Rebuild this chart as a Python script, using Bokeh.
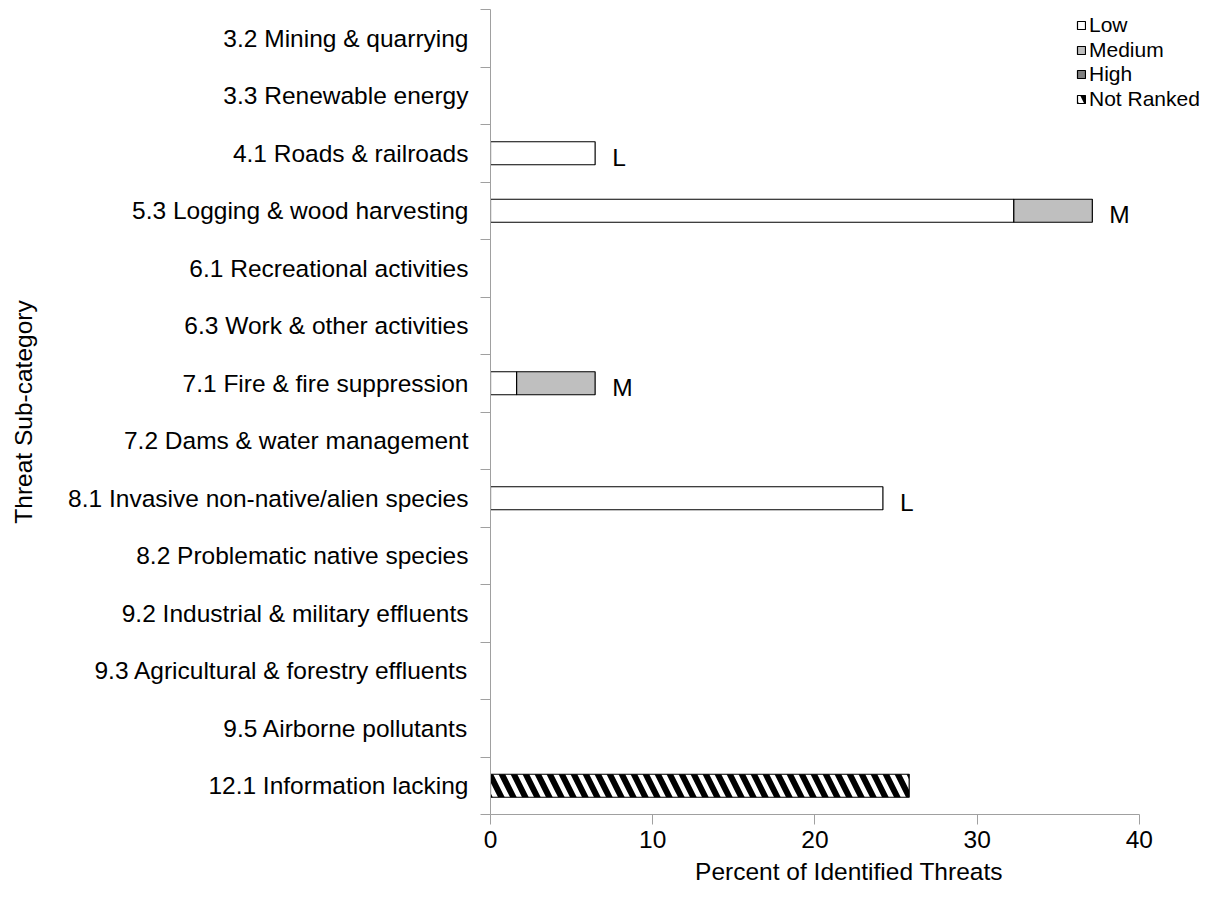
from bokeh.plotting import figure
from bokeh.models import ColumnDataSource, FixedTicker, Legend, LegendItem, Range1d
from bokeh.embed import file_html
from bokeh.resources import INLINE

categories = [
    "3.2 Mining & quarrying",
    "3.3 Renewable energy",
    "4.1 Roads & railroads",
    "5.3 Logging & wood harvesting",
    "6.1 Recreational activities",
    "6.3 Work & other activities",
    "7.1 Fire & fire suppression",
    "7.2 Dams & water management",
    "8.1 Invasive non-native/alien species",
    "8.2 Problematic native species",
    "9.2 Industrial & military effluents",
    "9.3 Agricultural & forestry effluents",
    "9.5 Airborne pollutants",
    "12.1 Information lacking",
]
low = [0, 0, 6.45, 32.26, 0, 0, 1.61, 0, 24.19, 0, 0, 0, 0, 0]
medium = [0, 0, 0, 4.84, 0, 0, 4.84, 0, 0, 0, 0, 0, 0, 0]
high = [0, 0, 0, 0, 0, 0, 0, 0, 0, 0, 0, 0, 0, 0]
not_ranked = [0, 0, 0, 0, 0, 0, 0, 0, 0, 0, 0, 0, 0, 25.81]
rank_labels = ["", "", "L", "M", "", "", "M", "", "L", "", "", "", "", ""]
series_names = ["Low", "Medium", "High", "Not Ranked"]
x_ticks = [0, 10, 20, 30, 40]

FONT = "Liberation Sans"
FS = "24.5px"
LEG_FS = "21px"
AXIS_GRAY = "#A0A0A0"
n = len(categories)
centers = [n - i - 0.5 for i in range(n)]
bounds_ticks = list(range(n + 1))

p = figure(width=1207, height=887, output_backend="svg", toolbar_location=None,
           x_range=Range1d(0, 44.2), y_range=Range1d(0, n),
           min_border_left=490, min_border_top=9, min_border_bottom=60, min_border_right=0)
p.outline_line_color = None
p.xgrid.visible = False
p.ygrid.visible = False

styles = [("white", None), ("#BFBFBF", None), ("#808080", None), ("white", "left_diagonal_line")]
values = [low, medium, high, not_ranked]

nan = float("nan")
cum = [0.0] * n
renderers = []
for name, vals, (color, hatch) in zip(series_names, values, styles):
    ys, l, r = [], [], []
    for i in range(n):
        if vals[i] > 0:
            ys.append(centers[i]); l.append(cum[i]); r.append(cum[i] + vals[i])
        cum[i] += vals[i]
    if not ys:  # keep a non-drawing row so the legend can show this series' swatch
        ys, l, r = [nan], [nan], [nan]
    src = ColumnDataSource(dict(y=ys, left=l, right=r))
    kw = dict(y="y", left="left", right="right", height=0.4, source=src,
              fill_color=color, line_color="black", line_width=1.2)
    if hatch:
        kw.update(hatch_pattern=hatch, hatch_color="black", hatch_weight=6, hatch_scale=24)
    renderers.append((name, p.hbar(**kw)))

lab_src = ColumnDataSource(dict(
    x=[cum[i] for i in range(n) if rank_labels[i]],
    y=[centers[i] for i in range(n) if rank_labels[i]],
    t=[rank_labels[i] for i in range(n) if rank_labels[i]]))
p.text(x="x", y="y", text="t", source=lab_src, x_offset=17, y_offset=4,
       text_align="left", text_baseline="middle", text_font_size=FS,
       text_font={"value": FONT}, text_color="black")

# one single-item legend per series, stacked tightly (Bokeh's own row spacing is too loose)
LEG_X = 586
LEG_Y0 = 777
LEG_STEP = 24.5
for k, (nm, r) in enumerate(renderers):
    lg = Legend(items=[LegendItem(label=nm, renderers=[r], index=0)],
                location=(LEG_X, LEG_Y0 - k * LEG_STEP),
                glyph_width=10, glyph_height=10, label_standoff=3,
                spacing=0, padding=0, margin=0,
                label_text_font=FONT, label_text_font_size=LEG_FS, label_text_color="black",
                border_line_color=None, background_fill_alpha=0)
    p.add_layout(lg)

xa = p.xaxis[0]
xa.ticker = FixedTicker(ticks=x_ticks, minor_ticks=[])
xa.bounds = (0, 40)
xa.axis_line_color = AXIS_GRAY
xa.major_tick_line_color = AXIS_GRAY
xa.major_tick_out = 10
xa.major_tick_in = 0
xa.minor_tick_line_color = None
xa.major_label_text_font = FONT
xa.major_label_text_font_size = FS
xa.major_label_text_color = "black"
xa.major_label_standoff = 6
xa.axis_label = "Percent of Identified Threats"
xa.axis_label_text_font = FONT
xa.axis_label_text_font_size = FS
xa.axis_label_text_font_style = "normal"
xa.axis_label_text_color = "black"
xa.axis_label_standoff = 7

ya = p.yaxis[0]
ya.ticker = FixedTicker(ticks=centers, minor_ticks=bounds_ticks)
ya.major_label_overrides = {c: categories[i] for i, c in enumerate(centers)}
ya.axis_line_color = AXIS_GRAY
ya.major_tick_line_color = None
ya.major_tick_out = 0
ya.major_tick_in = 0
ya.minor_tick_line_color = AXIS_GRAY
ya.minor_tick_out = 10
ya.minor_tick_in = 0
ya.major_label_text_font = FONT
ya.major_label_text_font_size = FS
ya.major_label_text_color = "black"
ya.major_label_standoff = 12
ya.axis_label = "Threat Sub-category"
ya.axis_label_text_font = FONT
ya.axis_label_text_font_size = FS
ya.axis_label_text_font_style = "normal"
ya.axis_label_text_color = "black"
ya.axis_label_standoff = 28

open("out.html", "w").write(file_html(p, INLINE))
